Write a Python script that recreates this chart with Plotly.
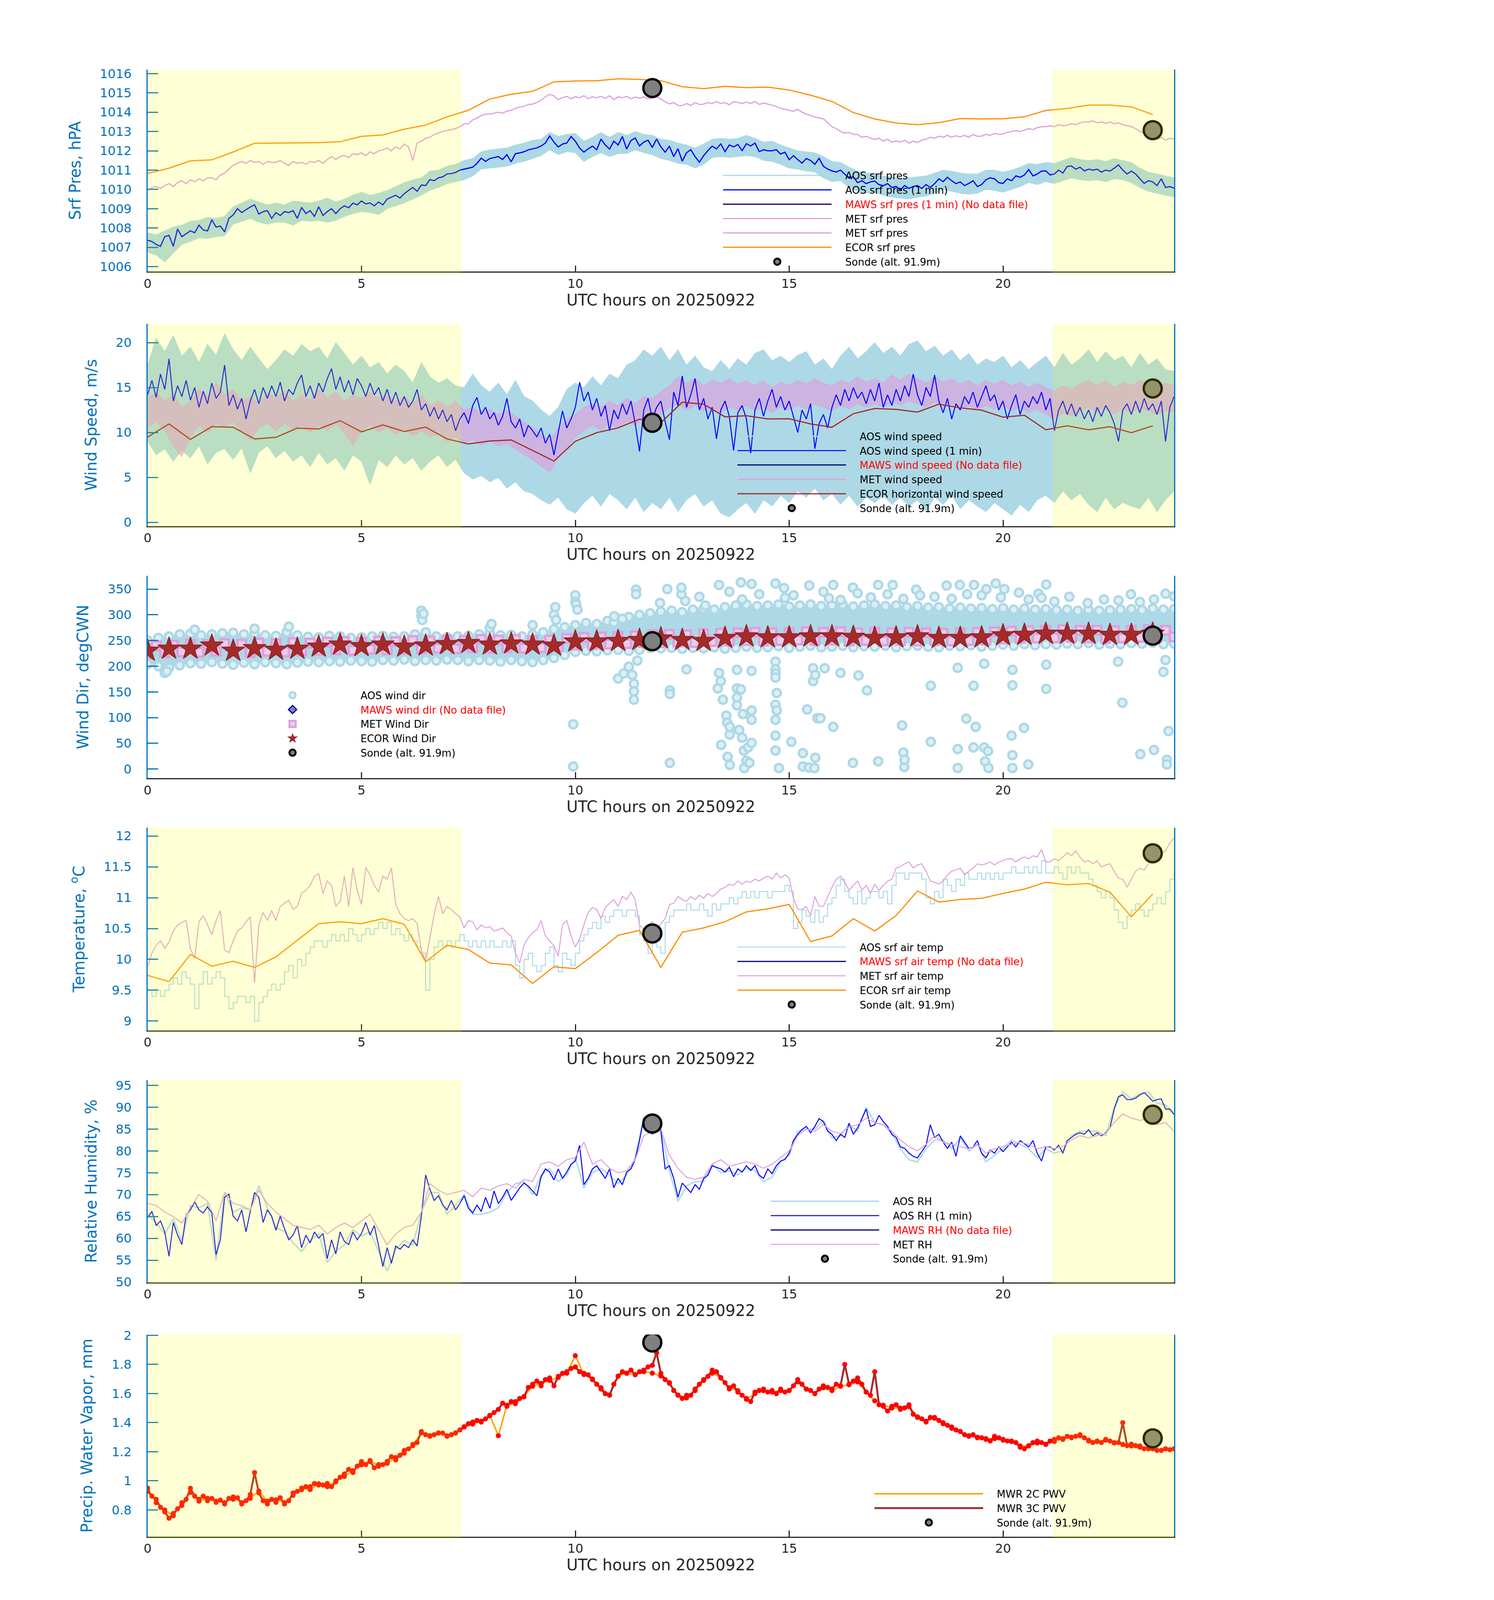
import numpy as np
import plotly.graph_objects as go

# ---------------- time bases ----------------
t01 = np.round(np.arange(241) * 0.1, 2)    # 0.0 .. 24.0 h
t02 = np.round(np.arange(121) * 0.2, 2)    # 0.0 .. 24.0 h
t025 = np.arange(97) * 0.25                # 0.0 .. 24.0 h
t_ecor = np.arange(48) * 0.5               # 0.0 .. 23.5 h
sonde_t = [11.8, 23.5]

night_spans = [(0, 7.33), (21.16, 24)]

# ---------------- panel 1: surface pressure ----------------
aos_pres_hi = [
    1007.75, 1007.65, 1007.85, 1008.05, 1008.15, 1008.35, 1008.4, 1008.55, 1008.5, 1008.6,
    1009.1, 1009.3, 1009.5, 1009.35, 1009.2, 1009.3, 1009.2, 1009.4, 1009.35, 1009.3,
    1009.4, 1009.55, 1009.35, 1009.5, 1009.7, 1009.85, 1009.7, 1009.8, 1009.95, 1010.15,
    1010.35, 1010.5, 1010.6, 1010.95, 1011.0, 1011.2, 1011.3, 1011.5, 1011.6, 1011.95,
    1012.05, 1012.1, 1012.15, 1012.3, 1012.4, 1012.55, 1012.6, 1012.95, 1012.75, 1012.85,
    1012.9, 1012.5, 1012.7, 1012.95, 1012.7, 1012.95, 1012.8, 1013.0, 1012.85, 1012.8,
    1012.6, 1012.55, 1012.4, 1012.3, 1012.15, 1012.35, 1012.6, 1012.65, 1012.6, 1012.65,
    1012.8, 1012.65, 1012.45, 1012.5, 1012.3, 1012.15, 1012.0, 1011.95, 1011.9, 1011.7,
    1011.45, 1011.4, 1011.15, 1010.95, 1010.85, 1010.85, 1010.7, 1010.65, 1010.6, 1010.6,
    1010.65, 1010.7, 1010.85, 1011.0, 1010.95, 1010.85, 1010.8, 1010.8, 1011.0, 1011.0,
    1010.9, 1011.0, 1011.15, 1011.35, 1011.3, 1011.4, 1011.35, 1011.5, 1011.65, 1011.55,
    1011.5, 1011.55, 1011.45, 1011.6, 1011.5, 1011.4, 1011.1, 1010.9, 1010.8, 1010.7,
    1010.6]
aos_pres_lo = [
    1006.75, 1006.6, 1006.25, 1006.7, 1007.15, 1007.3, 1007.5, 1007.45, 1007.55, 1007.6,
    1008.2, 1008.35, 1008.5, 1008.3, 1008.2, 1008.3, 1008.3, 1008.15, 1008.4, 1008.35,
    1008.4, 1008.3, 1008.4, 1008.6, 1008.75, 1008.85, 1008.8, 1008.7, 1009.0, 1009.15,
    1009.3, 1009.5, 1009.7, 1009.95, 1010.1, 1010.3, 1010.4, 1010.5, 1010.7, 1011.05,
    1011.1, 1011.15, 1011.2, 1011.35, 1011.45, 1011.6, 1011.75, 1012.05, 1011.8, 1011.95,
    1011.9, 1011.45, 1011.7, 1011.9, 1011.7, 1011.85, 1011.85, 1012.05, 1011.9, 1011.8,
    1011.6, 1011.5, 1011.35, 1011.3, 1011.1, 1011.3, 1011.65, 1011.7, 1011.65, 1011.7,
    1011.75, 1011.7, 1011.5, 1011.45, 1011.3, 1011.1, 1011.05, 1010.95, 1010.9, 1010.6,
    1010.4, 1010.45, 1010.1, 1009.9, 1009.8, 1009.85, 1009.7, 1009.6, 1009.55, 1009.5,
    1009.6, 1009.65, 1009.8, 1010.0, 1009.9, 1009.8, 1009.75, 1009.8, 1010.0, 1009.95,
    1009.85, 1010.0, 1010.15, 1010.35, 1010.25, 1010.4, 1010.3, 1010.45, 1010.6, 1010.5,
    1010.45, 1010.5, 1010.4, 1010.55, 1010.5, 1010.35, 1010.1, 1009.9, 1009.8, 1009.7,
    1009.6]
aos_pres_1min = [
    1007.37, 1007.30, 1007.15, 1007.05, 1007.55, 1007.62, 1007.05, 1007.95, 1007.55, 1007.70,
    1007.86, 1007.75, 1008.15, 1007.90, 1007.85, 1008.43, 1008.05, 1008.10, 1007.80, 1008.50,
    1008.68, 1009.00, 1008.80, 1008.95, 1009.09, 1009.20, 1008.72, 1008.85, 1008.90, 1008.50,
    1008.80, 1008.65, 1008.85, 1008.80, 1008.90, 1008.50, 1009.07, 1008.75, 1008.90, 1008.60,
    1009.10, 1008.65, 1008.85, 1009.00, 1008.75, 1009.00, 1009.15, 1009.05, 1009.29, 1009.20,
    1009.40, 1009.25, 1009.30, 1009.15, 1009.35, 1009.20, 1009.50, 1009.60, 1009.70, 1009.55,
    1009.78, 1009.95, 1010.10, 1009.90, 1010.23, 1010.20, 1010.51, 1010.45, 1010.60, 1010.65,
    1010.80, 1010.82, 1010.88, 1011.00, 1011.05, 1011.10, 1011.15, 1011.35, 1011.62, 1011.45,
    1011.60, 1011.65, 1011.70, 1011.55, 1011.80, 1011.43, 1011.85, 1011.89, 1011.95, 1012.05,
    1012.10, 1012.15, 1012.25, 1012.40, 1012.77, 1012.45, 1012.20, 1012.35, 1012.40, 1012.74,
    1012.50, 1012.14, 1011.93, 1012.10, 1012.24, 1012.05, 1012.61, 1012.30, 1012.09, 1012.50,
    1012.30, 1012.74, 1012.09, 1012.53, 1012.66, 1012.25, 1012.45, 1012.55, 1012.17, 1012.61,
    1012.20, 1011.93, 1012.24, 1011.70, 1012.11, 1011.46, 1011.90, 1012.06, 1011.70, 1011.41,
    1011.75, 1012.01, 1012.24, 1012.10, 1012.36, 1011.96, 1012.30, 1012.20, 1012.33, 1012.01,
    1012.37, 1012.25, 1012.40, 1011.96, 1012.05, 1012.00, 1012.00, 1012.06, 1011.83, 1011.93,
    1011.54, 1011.75, 1011.55, 1011.36, 1011.60, 1011.50, 1011.30, 1011.61, 1011.20, 1011.05,
    1010.96, 1010.90, 1011.00, 1010.80, 1010.58, 1010.65, 1010.35, 1010.45, 1010.30, 1010.39,
    1010.43, 1010.25, 1010.19, 1010.30, 1010.10, 1010.15, 1009.98, 1010.20, 1010.05, 1010.15,
    1010.20, 1010.05, 1010.25, 1010.10, 1010.30, 1010.55, 1010.40, 1010.63, 1010.45, 1010.30,
    1010.39, 1010.20, 1010.31, 1010.45, 1010.15, 1010.25, 1010.50, 1010.60, 1010.55, 1010.35,
    1010.31, 1010.55, 1010.45, 1010.70, 1010.63, 1010.75, 1011.03, 1010.70, 1010.80, 1010.95,
    1010.96, 1010.75, 1010.80, 1011.00, 1010.85, 1011.19, 1011.21, 1011.05, 1011.15, 1010.96,
    1011.05, 1011.00, 1011.05, 1010.90, 1011.00, 1010.95, 1011.10, 1011.27, 1011.00, 1010.80,
    1010.95, 1010.80, 1010.55, 1010.31, 1010.45, 1010.39, 1010.20, 1010.55, 1010.10, 1010.15,
    1010.06]
met_pres = [
    1009.95, 1010.1, 1010.15, 1010.05, 1010.2, 1010.3, 1010.15, 1010.35, 1010.45, 1010.3,
    1010.5, 1010.4, 1010.55, 1010.45, 1010.6, 1010.6, 1010.5, 1010.75, 1010.85, 1011.05,
    1011.25, 1011.35, 1011.45, 1011.35, 1011.5, 1011.4, 1011.45, 1011.3, 1011.45, 1011.4,
    1011.4, 1011.5, 1011.35, 1011.25, 1011.45, 1011.35, 1011.4, 1011.3, 1011.45, 1011.4,
    1011.5, 1011.35, 1011.55, 1011.7, 1011.55, 1011.7, 1011.75, 1011.65, 1011.85, 1011.8,
    1011.9, 1011.75, 1011.95, 1011.85, 1012.0, 1012.05, 1012.15, 1012.0, 1012.2, 1012.1,
    1012.35, 1012.2, 1011.5, 1012.4, 1012.5, 1012.65, 1012.7, 1012.85, 1012.92, 1013.0,
    1013.05, 1013.1, 1013.15, 1013.25, 1013.4, 1013.4, 1013.6, 1013.7, 1013.82, 1013.9,
    1013.9, 1013.95, 1014.0, 1013.95, 1014.05, 1014.1, 1014.2, 1014.27, 1014.3, 1014.4,
    1014.42, 1014.5, 1014.63, 1014.8, 1014.92, 1014.85, 1014.65, 1014.75, 1014.82, 1014.7,
    1014.8, 1014.75, 1014.85, 1014.7, 1014.8, 1014.75, 1014.82, 1014.72, 1014.85, 1014.65,
    1014.8, 1014.75, 1014.82, 1014.7, 1014.78, 1014.72, 1014.8, 1014.7, 1014.75, 1014.8,
    1014.68, 1014.55, 1014.42, 1014.5, 1014.35, 1014.34, 1014.45, 1014.35, 1014.5, 1014.4,
    1014.42, 1014.5, 1014.45, 1014.55, 1014.45, 1014.5, 1014.38, 1014.55, 1014.5, 1014.45,
    1014.52, 1014.45, 1014.55, 1014.4, 1014.48, 1014.42, 1014.35, 1014.3, 1014.2, 1014.15,
    1014.1, 1014.05, 1014.15, 1014.0, 1013.9, 1013.82, 1013.75, 1013.7, 1013.66, 1013.45,
    1013.25, 1013.15, 1013.0, 1012.92, 1012.95, 1012.85, 1012.84, 1012.7, 1012.75, 1012.65,
    1012.59, 1012.65, 1012.5, 1012.6, 1012.45, 1012.51, 1012.45, 1012.55, 1012.4, 1012.5,
    1012.43, 1012.55, 1012.6, 1012.7, 1012.65, 1012.76, 1012.7, 1012.8, 1012.7, 1012.78,
    1012.72, 1012.8, 1012.7, 1012.85, 1012.75, 1012.76, 1012.85, 1012.8, 1012.9, 1012.85,
    1012.88, 1012.95, 1013.0, 1013.05, 1013.0, 1013.08, 1013.15, 1013.1, 1013.2, 1013.25,
    1013.25, 1013.3, 1013.25, 1013.35, 1013.3, 1013.33, 1013.4, 1013.35, 1013.45, 1013.5,
    1013.49, 1013.55, 1013.45, 1013.5, 1013.42, 1013.5, 1013.4, 1013.45, 1013.35, 1013.3,
    1013.25, 1013.15, 1013.0, 1012.92, 1012.8, 1012.7, 1012.59, 1012.7, 1012.55, 1012.65,
    1012.6]
ecor_pres = [
    1010.82, 1011.10, 1011.48, 1011.53, 1011.94, 1012.39, 1012.40, 1012.41, 1012.42, 1012.47,
    1012.75, 1012.82, 1013.12, 1013.33, 1013.76, 1014.10, 1014.68, 1014.93, 1015.08, 1015.57,
    1015.62, 1015.63, 1015.73, 1015.70, 1015.63, 1015.32, 1015.22, 1015.34, 1015.27, 1015.30,
    1015.15, 1014.88, 1014.56, 1013.98, 1013.65, 1013.44, 1013.35, 1013.46, 1013.67, 1013.65,
    1013.66, 1013.76, 1014.09, 1014.19, 1014.37, 1014.37, 1014.28, 1013.88]
sonde_pres = [1015.25, 1013.07]

# ---------------- panel 2: wind speed ----------------
aos_ws_hi = [
    17.5, 20.5, 19.0, 20.8, 18.5, 19.5, 17.8, 19.8, 18.6, 21.0,
    19.2, 18.0, 19.5, 18.2, 17.0, 18.0, 19.2, 18.5, 19.8, 19.0,
    19.5, 18.2, 20.0, 18.8, 17.5, 18.5, 17.2, 17.8, 16.5, 17.5,
    16.8, 15.5, 17.8, 16.2, 15.5, 16.0, 15.2, 15.0, 16.5, 15.2,
    14.5, 15.5, 14.2, 15.8, 14.0, 13.5, 12.5, 11.8, 12.8, 14.8,
    15.5, 15.0, 16.2, 15.2, 16.5, 16.0, 17.5, 18.0, 19.2, 18.5,
    19.5, 18.0, 19.2, 17.5, 18.5, 17.2, 16.8, 18.0, 17.0, 18.2,
    17.5, 18.8, 19.2, 18.0, 18.5, 17.8, 18.6, 19.0, 17.5, 18.2,
    17.0, 18.5, 19.5, 18.2, 19.0, 20.0, 18.8, 19.5, 18.5, 19.8,
    20.2, 19.0, 19.6, 18.5, 19.2, 18.0, 18.8, 17.5, 18.2, 17.8,
    18.5, 17.2, 18.0, 17.0, 17.8, 18.5, 17.2, 18.8, 17.5, 18.2,
    19.2, 17.8, 19.0, 18.0, 18.5, 17.2, 18.8, 17.5, 18.2, 17.0,
    16.8]
aos_ws_lo = [
    9.0, 7.5, 8.2, 6.8, 8.0, 7.2, 8.5, 6.5, 7.8, 8.2,
    7.0, 8.3, 5.5, 7.8, 8.5, 7.2, 8.0, 6.8, 7.5, 6.2,
    7.8, 6.5, 7.2, 5.8, 7.5, 6.8, 4.2, 7.0, 6.2, 7.5,
    6.5, 7.2, 5.8, 6.8, 7.5, 6.2, 7.0, 5.5, 4.8, 5.2,
    4.5, 5.0, 3.8, 4.5, 3.5, 3.2, 2.5, 2.0, 2.8, 1.5,
    1.0, 2.2, 3.0, 1.8, 3.2, 2.5, 1.5, 2.8, 1.2, 2.2,
    1.5, 2.8, 1.2, 2.5, 3.2, 1.8, 2.5, 1.0, 0.6, 1.5,
    2.2, 1.0, 2.5, 1.8, 3.0, 2.2, 3.5, 2.8, 3.8, 2.5,
    3.2, 2.0, 3.0, 1.8, 2.8, 2.2, 3.0, 2.0, 2.8, 1.8,
    2.5, 1.2, 2.8, 2.0, 3.0, 1.5, 2.5, 1.8, 1.2, 2.2,
    1.5, 0.8, 2.0, 1.2, 2.5, 3.0, 2.2, 3.5, 2.5, 3.2,
    2.0, 1.2, 2.8, 1.5, 2.2, 1.8, 1.5, 2.8, 1.2, 2.5,
    3.5]
aos_ws_1min = [
    14.2, 15.8, 13.9, 16.5, 14.8, 18.2, 13.5, 15.2, 14.0, 15.8,
    13.6, 15.0, 12.8, 14.6, 13.2, 15.5, 13.8, 14.5, 17.5, 13.0,
    14.2, 12.6, 13.8, 11.5, 13.5, 14.8, 13.2, 15.0, 13.8, 15.2,
    14.0, 15.6, 13.5, 14.8, 14.2, 15.5, 16.4, 14.0, 15.2, 13.8,
    15.5, 14.5, 16.0, 17.1, 14.8, 16.2, 14.5, 15.8, 14.2, 16.0,
    15.2, 14.0, 15.5, 14.2, 15.0, 13.5, 14.8, 13.2, 14.5, 13.0,
    14.0, 12.8, 13.5, 14.8, 12.5, 13.2, 11.8, 12.8, 11.5, 12.5,
    11.2, 12.0, 10.2, 11.5, 12.2, 11.0, 13.0, 13.9, 12.0, 12.8,
    11.5, 12.2, 10.8, 11.8, 13.8, 11.2, 10.5, 11.5, 9.5, 10.8,
    10.2, 9.5, 10.5, 8.8, 9.8, 7.5, 10.0, 12.4, 10.5, 11.5,
    12.8, 15.6, 13.5, 14.5, 12.5, 13.8, 11.8, 13.0, 10.2, 12.5,
    11.5, 13.2, 12.0, 13.5, 11.0, 7.9, 12.5, 13.8, 11.5, 12.8,
    13.5, 11.2, 9.2, 14.5, 13.0, 16.3, 12.8, 14.2, 16.0, 12.5,
    13.8, 11.5, 12.8, 9.3, 12.5, 13.5, 11.8, 8.0, 12.2, 13.0,
    11.5, 7.7, 12.5, 13.8, 11.8, 13.5, 14.8, 12.8, 14.0, 12.5,
    13.5, 11.8, 10.0, 12.5, 11.5, 13.2, 8.2, 11.0, 12.0, 10.5,
    12.8, 14.2, 13.0, 14.8, 13.5, 15.0, 13.8, 14.5, 13.2, 14.8,
    13.5, 15.5, 12.8, 14.2, 13.0, 14.8, 13.5, 15.2, 14.0, 16.5,
    14.2, 13.0, 15.0, 14.0, 16.4, 13.5, 12.2, 13.8, 11.5, 13.2,
    12.5, 14.0, 13.2, 14.5, 12.8, 14.0, 15.2, 13.5, 14.2, 12.5,
    13.5, 11.5, 13.0, 14.2, 12.0, 13.5, 12.8, 14.0, 13.2, 14.5,
    12.5, 13.8, 10.2, 12.5, 13.5, 12.0, 13.2, 11.8, 12.8, 11.5,
    12.5, 11.2, 12.8, 11.8, 13.0, 12.2, 11.0, 9.0, 12.5, 13.2,
    12.0, 13.5, 12.2, 13.8, 12.5, 13.2, 12.0, 13.5, 9.0, 12.8,
    14.0]
met_ws_hi = [
    13.8, 14.5, 13.5, 14.2, 12.8, 13.5, 14.8, 14.0, 15.5, 14.2,
    14.8, 13.5, 14.0, 13.2, 14.5, 13.8, 14.6, 13.5, 14.2, 13.6,
    14.8, 13.8, 14.5, 13.5, 14.2, 13.8, 14.5, 13.8, 14.2, 13.5,
    14.0, 13.2, 14.2, 13.0, 13.5, 12.8, 13.5, 12.5, 12.8, 12.2,
    12.6, 12.0, 12.5, 11.8, 11.2, 10.5, 9.8, 9.2, 10.5, 11.5,
    12.0, 12.8, 13.2, 12.8, 13.5, 13.0, 13.8, 13.2, 14.0, 13.8,
    14.5, 15.2, 16.2, 15.5, 16.0, 15.2, 15.8, 15.5, 16.0, 15.4,
    15.8, 15.2, 15.8, 15.0, 15.6, 15.2, 15.8, 15.4, 16.0, 15.5,
    15.2, 15.8, 15.5, 16.2, 15.6, 16.0, 15.5, 16.4, 15.8, 16.5,
    16.0, 15.5, 16.2, 15.6, 16.0, 15.4, 15.8, 15.2, 15.8, 15.4,
    15.8, 15.2, 15.6, 15.0, 15.5, 15.0, 14.6, 15.2, 14.8, 15.4,
    15.8, 15.2, 15.8, 15.0, 15.6, 15.2, 15.8, 15.4, 15.0, 15.5,
    15.2]
met_ws_lo = [
    10.5, 11.2, 10.2, 8.5, 7.3, 9.5, 10.8, 10.0, 11.0, 10.5,
    11.2, 10.0, 9.2, 10.5, 11.0, 10.2, 11.0, 10.4, 10.8, 10.0,
    10.8, 10.2, 11.0, 10.0, 8.5, 10.2, 10.8, 10.0, 10.6, 9.8,
    10.4, 9.6, 10.2, 9.5, 9.8, 9.0, 9.5, 8.8, 9.2, 8.6,
    9.0, 8.5, 8.8, 8.2, 7.5, 7.0, 6.2, 5.6, 7.2, 8.2,
    9.5, 10.2, 10.8, 10.2, 11.0, 10.5, 11.2, 10.8, 11.5, 11.2,
    12.0, 12.8, 13.2, 12.5, 13.0, 12.4, 12.8, 12.2, 12.8, 12.5,
    13.0, 12.4, 12.8, 12.2, 12.8, 12.5, 13.0, 12.6, 13.2, 12.8,
    12.4, 13.0, 12.6, 13.2, 12.8, 13.2, 12.8, 13.4, 13.0, 13.5,
    13.2, 12.8, 13.4, 12.8, 13.2, 12.6, 13.0, 12.5, 13.0, 12.6,
    13.0, 12.4, 12.8, 12.2, 12.6, 12.0, 11.5, 12.2, 11.8, 12.4,
    12.8, 12.2, 12.8, 12.0, 12.6, 12.2, 12.8, 12.4, 12.0, 12.5,
    12.2]
ecor_ws = [
    9.49, 10.95, 9.23, 10.65, 10.58, 9.28, 9.46, 10.49, 10.39, 11.32,
    10.07, 10.84, 10.11, 10.60, 9.28, 8.72, 9.05, 9.17, 8.0, 6.82,
    9.02, 9.98, 10.51, 11.48, 11.09, 13.37, 13.15, 11.74, 11.86, 11.51,
    11.53, 10.95, 10.58, 12.09, 12.67, 12.57, 12.27, 13.15, 12.74, 12.48,
    11.70, 11.92, 10.30, 10.74, 10.30, 10.65, 9.98, 10.74]
sonde_ws = [11.08, 14.9]

# ---------------- panel 3: wind direction ----------------
aos_wd_lo = [
    204, 200, 197, 202, 206, 205, 208, 205, 203, 207, 204, 208, 206, 204, 207, 209,
    208, 210, 209, 211, 210, 209, 212, 211, 213, 210, 212, 211, 213, 212, 210, 212,
    211, 209, 212, 210, 208, 212, 216, 222, 228, 230, 229, 231, 232, 230, 232, 236,
    235, 236, 234, 236, 235, 237, 234, 236, 238, 236, 237, 239, 236, 238, 240, 237,
    238, 240, 237, 239, 238, 240, 237, 239, 240, 238, 237, 240, 239, 241, 238, 240,
    242, 240, 243, 241, 243, 242, 244, 243, 245, 242, 244, 243, 245, 244, 246, 243,
    244]
aos_wd_hi = [
    250, 255, 258, 262, 263, 260, 262, 264, 265, 262, 264, 260, 259, 266, 260, 257,
    256, 259, 258, 255, 256, 258, 259, 257, 258, 262, 266, 258, 256, 258, 259, 262,
    264, 260, 261, 258, 262, 266, 272, 276, 280, 284, 282, 288, 292, 296, 300, 303,
    306, 308, 305, 310, 312, 310, 315, 318, 320, 317, 318, 320, 316, 318, 320, 317,
    318, 320, 316, 318, 320, 317, 318, 315, 317, 314, 315, 312, 314, 312, 313, 311,
    313, 310, 312, 310, 311, 309, 310, 308, 310, 308, 309, 310, 311, 309, 312, 310,
    311]
# scattered AOS wind-direction samples outside the dense core
aos_wd_out_t = [
    0.4, 0.45, 1.1, 2.5, 3.3, 6.4, 6.4, 6.42, 6.45, 8.0, 8.04, 9.0, 9.5, 9.53, 9.55,
    9.95, 9.95, 10.0, 10.0, 10.02, 10.05, 10.9, 10.91, 11.0, 11.1, 11.13, 11.25, 11.33,
    11.37, 11.37, 11.37, 11.42, 11.42, 11.45, 11.98, 12.15, 12.21, 12.21, 12.21, 12.48,
    12.48, 12.57, 12.6, 12.9, 13.04, 13.33, 13.36, 13.36, 13.4, 13.41, 13.45, 13.53,
    13.55, 13.56, 13.6, 13.61, 13.61, 13.61, 13.78, 13.78, 13.78, 13.78, 13.83, 13.87,
    13.87, 13.9, 13.9, 13.92, 13.94, 13.95, 14.0, 14.04, 14.07, 14.12, 14.12, 14.12,
    14.12, 14.12, 14.3, 14.68, 14.68, 14.68, 14.68, 14.68, 14.68, 14.68, 14.68, 14.68,
    14.71, 14.71, 14.76, 14.88, 14.9, 15.05, 15.1, 15.32, 15.32, 15.42, 15.46, 15.47,
    15.56, 15.56, 15.59, 15.61, 15.61, 15.66, 15.73, 15.8, 15.83, 15.93, 16.03, 16.03,
    16.2, 16.2, 16.49, 16.49, 16.6, 16.62, 16.82, 16.91, 17.08, 17.08, 17.3, 17.42,
    17.64, 17.67, 17.67, 17.69, 17.7, 17.97, 18.06, 18.31, 18.31, 18.4, 18.68, 18.8,
    18.94, 18.94, 18.94, 18.99, 19.14, 19.16, 19.31, 19.31, 19.32, 19.36, 19.5, 19.56,
    19.56, 19.58, 19.61, 19.65, 19.66, 19.83, 19.95, 20.03, 20.2, 20.22, 20.22, 20.22,
    20.22, 20.37, 20.49, 20.59, 20.6, 20.83, 20.9, 21.01, 21.01, 21.01, 21.2, 21.55,
    21.98, 22.36, 22.69, 22.7, 22.79, 22.99, 23.2, 23.21, 23.53, 23.53, 23.75, 23.8,
    23.8, 23.83, 23.83, 23.87, 24.0]
aos_wd_out_v = [
    187, 190, 271, 273, 277, 308, 298, 290, 302, 275, 282, 280, 300, 315, 290,
    5, 87, 338, 325, 320, 310, 285, 297, 176, 292, 186, 199, 183,
    166, 151, 135, 349, 340, 211, 323, 350, 153, 146, 12, 340,
    353, 327, 194, 335, 318, 157, 187, 358, 171, 47, 135, 104,
    90, 24, 345, 67, 8, 82, 193, 157, 139, 124, 76, 155,
    363, 61, 330, 107, 36, 2, 16, 42, 12, 51, 96, 114,
    191, 360, 340, 209, 194, 186, 178, 125, 96, 65, 36, 361,
    148, 114, 2, 352, 333, 53, 338, 31, 5, 116, 3, 357,
    196, 171, 2, 22, 183, 99, 99, 345, 196, 332, 82, 358,
    187, 329, 12, 353, 342, 182, 153, 334, 15, 358, 340, 358,
    85, 32, 331, 4, 18, 349, 338, 162, 53, 335, 357, 331,
    197, 39, 2, 358, 98, 340, 162, 42, 358, 82, 338, 205,
    42, 15, 350, 35, 2, 361, 334, 350, 65, 27, 2, 163,
    193, 343, 80, 9, 330, 341, 333, 156, 203, 359, 326, 335,
    323, 330, 209, 328, 129, 340, 325, 29, 37, 330, 189, 212,
    341, 18, 9, 74, 336]
met_wd = [
    224, 240, 226, 241, 228, 243, 227, 242, 229, 244,
    228, 243, 227, 245, 229, 244, 228, 246, 230, 245,
    231, 247, 232, 248, 231, 247, 233, 249, 232, 248,
    233, 250, 234, 249, 235, 251, 234, 250, 236, 252,
    235, 251, 236, 252, 235, 250, 236, 251, 238, 254,
    241, 256, 242, 257, 243, 258, 244, 259, 246, 261,
    246, 262, 247, 261, 246, 263, 248, 264, 249, 265,
    250, 266, 249, 265, 250, 266, 251, 267, 250, 266,
    251, 267, 249, 265, 250, 266, 249, 265, 250, 266,
    249, 265, 250, 264, 249, 265, 250, 266, 251, 267,
    253, 268, 254, 269, 255, 270, 255, 271, 256, 270,
    255, 270, 254, 269, 255, 270, 256, 271, 256, 270,
    257]
ecor_wd = [
    230, 234, 234, 240, 230, 235, 232, 234, 238, 242,
    239, 242, 238, 240, 243, 245, 242, 244, 242, 240,
    248, 248, 249, 251, 254, 251, 249, 255, 258, 256,
    256, 258, 258, 257, 255, 256, 258, 255, 255, 256,
    260, 261, 263, 263, 263, 261, 261, 263]
sonde_wd = [248.6, 259.5]

# ---------------- panel 4: air temperature ----------------
aos_temp = [
    9.5, 9.4, 9.5, 9.4, 9.5, 9.6, 9.7, 9.6, 9.8, 9.7,
    9.6, 9.2, 9.6, 9.8, 9.6, 9.7, 9.8, 9.7, 9.4, 9.2,
    9.3, 9.4, 9.4, 9.3, 9.4, 9.0, 9.3, 9.4, 9.5, 9.6,
    9.5, 9.6, 9.8, 9.9, 9.7, 10.0, 9.9, 10.1, 10.2, 10.3,
    10.3, 10.2, 10.3, 10.4, 10.3, 10.4, 10.3, 10.5, 10.4, 10.3,
    10.4, 10.5, 10.4, 10.5, 10.6, 10.5, 10.6, 10.4, 10.5, 10.4,
    10.3, 10.4, 10.3, 10.2, 10.1, 9.5, 10.0, 10.2, 10.3, 10.2,
    10.3, 10.2, 10.3, 10.4, 10.3, 10.2, 10.3, 10.2, 10.3, 10.2,
    10.3, 10.2, 10.2, 10.3, 10.2, 10.3, 9.9, 9.7, 10.0, 10.1,
    9.9, 9.8, 9.9, 10.1, 10.2, 9.9, 9.8, 10.1, 10.0, 9.9,
    10.1, 10.3, 10.4, 10.5, 10.6, 10.5, 10.7, 10.6, 10.7, 10.8,
    10.8, 10.7, 10.8, 10.8, 10.7, 10.4, 10.3, 10.1, 10.3, 10.2,
    10.1, 10.6, 10.7, 10.8, 10.8, 10.8, 10.9, 10.8, 10.8, 10.9,
    10.8, 10.7, 10.9, 10.8, 10.9, 10.9, 11.0, 10.9, 11.0, 11.1,
    11.0, 11.1, 11.0, 11.1, 11.1, 11.0, 11.1, 11.1, 11.1, 11.2,
    11.1, 10.5, 10.6, 10.8, 10.7, 10.6, 10.8, 10.6, 10.7, 10.9,
    11.0, 11.2, 11.3, 11.1, 11.0, 10.9, 11.1, 10.9, 11.0, 11.1,
    11.1, 11.0, 11.1, 10.9, 11.2, 11.4, 11.4, 11.3, 11.4, 11.4,
    11.4, 11.3, 11.0, 10.9, 11.1, 11.0, 11.3, 11.2, 11.1, 11.3,
    11.2, 11.4, 11.3, 11.3, 11.4, 11.3, 11.4, 11.3, 11.4, 11.3,
    11.4, 11.4, 11.5, 11.4, 11.4, 11.5, 11.4, 11.5, 11.4, 11.6,
    11.4, 11.4, 11.5, 11.4, 11.3, 11.5, 11.4, 11.5, 11.4, 11.4,
    11.3, 11.2, 11.1, 11.0, 11.1, 11.0, 10.8, 10.6, 10.5, 10.7,
    10.8, 10.9, 10.8, 10.7, 10.8, 10.9, 11.0, 10.9, 11.1, 11.3,
    11.4]
met_temp = [
    9.88, 10.10, 10.23, 10.30, 10.18, 10.28, 10.46, 10.56, 10.60, 10.63,
    10.17, 10.02, 10.61, 10.71, 10.56, 10.40, 10.63, 10.79, 10.15, 10.11,
    10.30, 10.46, 10.51, 10.61, 10.69, 9.62, 10.56, 10.76, 10.63, 10.79,
    10.63, 10.86, 10.91, 10.96, 10.81, 10.86, 11.07, 11.12, 11.20, 11.35,
    11.39, 11.07, 11.27, 11.20, 10.86, 10.94, 11.35, 10.86, 11.49, 11.12,
    10.89, 11.49, 11.37, 11.20, 11.09, 11.35, 11.30, 11.48, 10.89, 10.74,
    10.66, 10.63, 10.66, 10.58, 10.15, 9.97, 10.35, 10.74, 11.02, 10.74,
    10.86, 10.81, 10.74, 10.69, 10.51, 10.63, 10.61, 10.48, 10.56, 10.51,
    10.53, 10.46, 10.48, 10.51, 10.43, 10.38, 10.10, 9.94, 10.23, 10.35,
    10.43, 10.48, 10.63, 10.38, 10.30, 10.22, 10.05, 10.56, 10.63, 10.38,
    10.20, 10.33, 10.56, 10.76, 10.84, 10.81, 10.66, 10.84, 10.91, 10.97,
    10.86, 11.02, 10.97, 11.09, 10.97, 10.56, 10.48, 10.56, 10.61, 10.46,
    10.58, 10.66, 10.89, 10.91, 11.02, 10.97, 10.94, 11.02, 10.97, 11.04,
    10.99, 11.07, 11.02, 11.07, 11.14, 11.17, 11.22, 11.20, 11.27, 11.22,
    11.27, 11.25, 11.30, 11.27, 11.32, 11.35, 11.30, 11.40, 11.32, 11.37,
    11.32, 10.99, 10.81, 10.81, 10.86, 10.71, 11.02, 10.86, 10.86, 11.02,
    11.17, 11.30, 11.35, 11.25, 11.12, 11.20, 11.27, 11.12, 11.20, 11.07,
    11.22, 11.12, 11.20, 11.27, 11.30, 11.48, 11.50, 11.55, 11.58, 11.48,
    11.53, 11.55, 11.43, 11.27, 11.25, 11.22, 11.27, 11.37, 11.43, 11.45,
    11.48, 11.37, 11.43, 11.48, 11.55, 11.53, 11.55, 11.58, 11.53, 11.58,
    11.60, 11.63, 11.63, 11.58, 11.63, 11.66, 11.63, 11.68, 11.66, 11.78,
    11.58, 11.58, 11.63, 11.60, 11.66, 11.73, 11.68, 11.76, 11.66, 11.58,
    11.60, 11.55, 11.60, 11.50, 11.53, 11.55, 11.43, 11.32, 11.30, 11.17,
    11.30, 11.43, 11.48, 11.45, 11.55, 11.63, 11.66, 11.71, 11.76, 11.89,
    11.97]
ecor_temp = [
    9.74, 9.64, 10.08, 9.89, 9.97, 9.87, 10.04, 10.31, 10.58, 10.61,
    10.58, 10.66, 10.57, 9.96, 10.23, 10.16, 9.94, 9.91, 9.61, 9.88,
    9.85, 10.11, 10.39, 10.47, 9.87, 10.44, 10.51, 10.61, 10.77, 10.82,
    10.89, 10.29, 10.38, 10.66, 10.46, 10.71, 11.11, 10.93, 10.97, 10.99,
    11.07, 11.14, 11.25, 11.21, 11.23, 11.09, 10.69, 11.06]
sonde_temp = [10.42, 11.72]

# ---------------- panel 5: relative humidity ----------------
aos_rh = [
    65.5, 63.5, 61.0, 64.5, 59.5, 67.5, 67.0, 68.0, 55.0, 70.5,
    66.0, 67.0, 66.5, 72.0, 67.0, 62.5, 61.5, 59.0, 57.0, 59.5,
    61.0, 54.5, 57.0, 58.5, 62.0, 60.5, 61.5, 57.0, 52.5, 57.5,
    59.5, 58.5, 66.0, 70.5, 70.5, 65.5, 67.5, 70.0, 65.5, 65.5,
    66.0, 67.0, 70.5, 72.5, 73.0, 70.0, 74.5, 76.0, 73.0, 74.5,
    78.5, 71.5, 75.0, 76.0, 74.5, 72.5, 74.5, 78.5, 88.0, 84.0,
    85.0, 75.5, 68.5, 72.0, 73.0, 73.0, 77.0, 75.0, 75.5, 74.5,
    76.0, 75.5, 73.0, 74.0, 77.5, 79.0, 84.5, 85.0, 85.0, 87.0,
    83.0, 83.5, 86.0, 84.5, 90.0, 86.5, 86.0, 84.0, 80.5, 78.0,
    77.5, 80.5, 82.5, 82.5, 80.5, 83.0, 80.0, 81.5, 77.5, 79.0,
    80.5, 82.5, 81.5, 80.5, 78.5, 80.5, 79.5, 80.0, 83.5, 84.5,
    84.5, 84.5, 83.5, 90.0, 93.5, 92.0, 93.0, 93.5, 91.0, 90.5,
    88.5]
aos_rh_1min = [
    64.71, 66.16, 62.91, 63.99, 61.47, 55.89, 63.63, 60.75, 58.59, 65.44,
    66.52, 68.32, 66.52, 65.80, 67.24, 65.80, 56.25, 59.67, 69.40, 70.12,
    65.07, 63.99, 66.52, 61.47, 66.16, 70.48, 69.40, 63.63, 66.52, 65.07,
    61.83, 65.07, 62.19, 59.67, 60.75, 62.91, 57.87, 60.75, 58.95, 61.47,
    60.03, 61.11, 55.35, 59.67, 56.43, 61.47, 59.31, 58.59, 61.47, 59.67,
    61.11, 63.63, 60.75, 62.91, 58.23, 53.55, 57.87, 54.27, 58.23, 57.51,
    58.59, 57.87, 59.67, 58.23, 65.07, 74.50, 71.21, 68.68, 69.76, 67.60,
    66.52, 68.68, 66.52, 67.96, 69.76, 66.88, 65.80, 67.60, 66.16, 69.40,
    66.88, 70.85, 67.96, 69.40, 71.21, 68.68, 70.12, 71.57, 72.65, 71.93,
    70.85, 69.76, 74.09, 75.89, 75.17, 73.37, 75.89, 73.73, 75.17, 76.97,
    77.69, 81.30, 72.29, 73.73, 75.89, 76.61, 75.17, 73.73, 75.89, 71.57,
    73.73, 72.29, 75.17, 75.89, 78.05, 82.37, 87.42, 85.98, 83.81, 86.34,
    84.53, 75.89, 76.61, 73.73, 69.40, 72.65, 71.57, 70.48, 72.29, 71.21,
    73.73, 74.45, 76.61, 76.25, 75.89, 75.17, 76.25, 74.09, 75.89, 75.17,
    76.61, 75.53, 76.61, 74.45, 73.73, 75.89, 74.80, 76.61, 77.69, 78.05,
    79.49, 82.37, 83.81, 84.89, 85.62, 84.17, 85.62, 87.42, 86.70, 84.53,
    83.81, 82.37, 83.81, 83.09, 86.34, 83.81, 85.25, 87.42, 89.58, 85.62,
    85.98, 88.14, 86.70, 85.62, 83.81, 83.09, 80.93, 80.57, 79.49, 78.77,
    78.41, 79.85, 81.29, 85.98, 83.09, 83.81, 82.01, 80.57, 82.01, 78.77,
    83.45, 82.01, 80.57, 80.93, 82.37, 79.49, 78.41, 80.21, 79.49, 80.93,
    79.85, 80.93, 82.01, 80.93, 82.37, 81.65, 80.93, 82.37, 79.49, 77.69,
    80.93, 80.93, 80.21, 81.29, 79.49, 82.37, 83.09, 83.81, 84.17, 83.81,
    84.89, 83.45, 84.17, 83.45, 84.17, 85.25, 89.58, 92.46, 92.82, 91.74,
    91.74, 92.10, 92.82, 93.36, 92.46, 91.38, 91.74, 91.92, 89.58, 89.58,
    88.32]
met_rh = [
    68.0, 67.5, 66.0, 65.0, 63.5, 67.0, 70.0, 68.5, 64.0, 70.5,
    68.0, 67.5, 66.5, 71.0, 68.0, 66.0, 64.5, 63.0, 62.5, 62.0,
    63.0, 61.0, 62.5, 63.5, 62.5, 64.0, 65.5, 62.0, 58.5, 61.0,
    62.5, 63.0, 66.0, 72.5, 71.0, 70.0, 70.5, 71.0, 69.5, 71.5,
    71.0, 72.0, 72.5, 71.5, 73.5, 73.0, 77.0, 77.5, 76.5, 78.0,
    78.5, 82.0, 77.0, 78.0, 76.0, 75.0, 75.5, 78.0, 83.5, 84.5,
    85.0, 79.0, 76.0, 74.0, 73.5, 74.0, 77.0, 78.0, 76.5, 77.0,
    77.5, 77.0, 76.0, 77.0, 78.5, 80.0, 83.5, 85.0, 84.5, 86.0,
    84.5, 84.0, 85.5, 86.0, 87.5, 86.5, 86.0, 84.5, 82.5, 81.0,
    80.0, 81.5, 83.5, 82.0, 81.5, 81.0, 80.5, 81.5, 79.5, 80.5,
    81.0, 81.5, 82.0, 81.5, 80.5, 81.0, 80.5, 81.0, 82.5, 83.5,
    83.0, 83.5, 84.0, 86.5, 88.5, 87.5, 87.0, 87.5, 86.0, 86.5,
    84.5]
sonde_rh = [86.27, 88.3]

# ---------------- panel 6: precipitable water vapour ----------------
mwr3c_pwv = [
    0.928, 0.895, 0.873, 0.819, 0.787, 0.743, 0.776, 0.808, 0.830, 0.873,
    0.949, 0.895, 0.873, 0.895, 0.863, 0.879, 0.852, 0.868, 0.841, 0.879,
    0.873, 0.884, 0.841, 0.863, 0.906, 1.057, 0.917, 0.863, 0.841, 0.873,
    0.852, 0.884, 0.841, 0.863, 0.917, 0.928, 0.939, 0.960, 0.960, 0.982,
    0.971, 0.971, 0.982, 0.960, 0.993, 1.025, 1.047, 1.079, 1.057, 1.101,
    1.133, 1.112, 1.133, 1.090, 1.112, 1.112, 1.133, 1.166, 1.144, 1.176,
    1.209, 1.220, 1.242, 1.263, 1.339, 1.317, 1.306, 1.317, 1.328, 1.328,
    1.306, 1.317, 1.328, 1.350, 1.372, 1.393, 1.404, 1.415, 1.404, 1.426,
    1.447, 1.469, 1.491, 1.534, 1.512, 1.545, 1.545, 1.566, 1.577, 1.642,
    1.664, 1.686, 1.653, 1.696, 1.707, 1.653, 1.718, 1.739, 1.750, 1.772,
    1.783, 1.750, 1.739, 1.729, 1.696, 1.664, 1.631, 1.599, 1.588, 1.664,
    1.718, 1.750, 1.739, 1.761, 1.729, 1.750, 1.761, 1.783, 1.794, 1.880,
    1.739, 1.696, 1.675, 1.621, 1.588, 1.566, 1.588, 1.588, 1.631, 1.664,
    1.696, 1.718, 1.761, 1.750, 1.707, 1.675, 1.631, 1.653, 1.610, 1.588,
    1.566, 1.545, 1.610, 1.621, 1.631, 1.610, 1.621, 1.599, 1.631, 1.610,
    1.621, 1.653, 1.696, 1.664, 1.631, 1.621, 1.599, 1.631, 1.653, 1.642,
    1.631, 1.664, 1.653, 1.800, 1.664, 1.686, 1.707, 1.664, 1.610, 1.588,
    1.750, 1.523, 1.512, 1.480, 1.512, 1.523, 1.491, 1.501, 1.523, 1.458,
    1.436, 1.426, 1.404, 1.436, 1.436, 1.415, 1.393, 1.382, 1.361, 1.350,
    1.339, 1.317, 1.306, 1.317, 1.296, 1.296, 1.285, 1.274, 1.306, 1.296,
    1.285, 1.274, 1.274, 1.263, 1.231, 1.220, 1.242, 1.263, 1.274, 1.263,
    1.252, 1.274, 1.285, 1.296, 1.285, 1.306, 1.296, 1.306, 1.317, 1.296,
    1.274, 1.263, 1.274, 1.263, 1.285, 1.274, 1.263, 1.263, 1.400, 1.242,
    1.252, 1.242, 1.231, 1.220, 1.231, 1.220, 1.209, 1.209, 1.220, 1.214,
    1.220]
mwr2c_pwv = [
    0.95, 0.85, 0.80, 0.76, 0.85, 0.92, 0.86, 0.88, 0.86, 0.85,
    0.89, 0.85, 0.88, 0.93, 0.86, 0.87, 0.85, 0.90, 0.95, 0.94,
    0.98, 0.96, 1.00, 1.03, 1.07, 1.11, 1.14, 1.10, 1.12, 1.16,
    1.19, 1.25, 1.33, 1.31, 1.33, 1.31, 1.33, 1.37, 1.39, 1.41,
    1.45, 1.31, 1.52, 1.53, 1.58, 1.65, 1.67, 1.69, 1.71, 1.74,
    1.86, 1.73, 1.70, 1.64, 1.59, 1.72, 1.74, 1.73, 1.75, 1.74,
    1.72, 1.67, 1.59, 1.57, 1.62, 1.69, 1.74, 1.71, 1.64, 1.62,
    1.56, 1.60, 1.62, 1.61, 1.62, 1.62, 1.68, 1.63, 1.60, 1.64,
    1.62, 1.65, 1.66, 1.68, 1.61, 1.55, 1.52, 1.50, 1.50, 1.51,
    1.44, 1.41, 1.43, 1.40, 1.37, 1.34, 1.31, 1.30, 1.29, 1.29,
    1.28, 1.27, 1.24, 1.24, 1.26, 1.25, 1.27, 1.29, 1.30, 1.31,
    1.28, 1.27, 1.28, 1.26, 1.25, 1.24, 1.24, 1.22, 1.21, 1.22,
    1.22]
sonde_pwv = [1.951, 1.292]

# ---------------- styling ----------------
LIGHTBLUE = "#ADD8E6"
BLUE = "#0000FF"
NAVY = "#000080"
PLUM = "#DDA0DD"
DARKORANGE = "#FF8C00"
ORANGE = "#FFA500"
BROWN = "#A52A2A"
AXBLUE = "#0072BD"
AXGREY = "#262626"
FONT = "DejaVu Sans"

# the browser window only shows 4096 px in height, so the 3825x7125 layout of the
# original is compressed vertically (all positions kept as fractions of the page)
W, H = 3825, 4096
SY = H / 7125.0

tick_size = 32
title_size = 40
legend_size = 26
GAP = "\u00a0\u00a0\u00a0\u2009"   # space between legend symbol and label

fig = go.Figure()


def xa(i):
    return "x" if i == 1 else "x%d" % i


def ya(i):
    return "y" if i == 1 else "y%d" % i


def lg(i):
    return "legend" if i == 1 else "legend%d" % i


def red(text):
    return '<span style="color:#FF0000">' + text + "</span>"


def legend_line(i, name, color, rank, width=3):
    # entry with no data (e.g. "No data file")
    fig.add_trace(go.Scatter(x=[None], y=[None], mode="lines", name=GAP + name,
                             line=dict(color=color, width=width),
                             legend=lg(i), legendrank=rank,
                             xaxis=xa(i), yaxis=ya(i)))


def band(i, t, lo, hi, color):
    fig.add_trace(go.Scatter(x=t, y=lo, mode="lines", line=dict(color=color, width=1.5),
                             showlegend=False, hoverinfo="skip", xaxis=xa(i), yaxis=ya(i)))
    fig.add_trace(go.Scatter(x=t, y=hi, mode="lines", line=dict(color=color, width=1.5),
                             fill="tonexty", fillcolor=color, showlegend=False,
                             hoverinfo="skip", xaxis=xa(i), yaxis=ya(i)))


def line(i, t, y, name, color, rank, width=3, shape="linear", show=True):
    fig.add_trace(go.Scatter(x=t, y=y, mode="lines", name=GAP + name,
                             line=dict(color=color, width=width, shape=shape),
                             showlegend=show, legend=lg(i), legendrank=rank,
                             xaxis=xa(i), yaxis=ya(i)))


def sonde(i, y, rank):
    fig.add_trace(go.Scatter(x=sonde_t, y=y, mode="markers", name=GAP + "Sonde (alt. 91.9m)",
                             marker=dict(size=46, color="#808080",
                                         line=dict(color="black", width=6)),
                             legend=lg(i), legendrank=rank,
                             xaxis=xa(i), yaxis=ya(i)))


# panel 1
band(1, t02, aos_pres_lo, aos_pres_hi, LIGHTBLUE)
legend_line(1, "AOS srf pres", LIGHTBLUE, 1)
line(1, t01, aos_pres_1min, "AOS srf pres (1 min)", BLUE, 2)
legend_line(1, red("MAWS srf pres (1 min) (No data file)"), NAVY, 3)
line(1, t01, met_pres, "MET srf pres", PLUM, 4)
legend_line(1, "MET srf pres", PLUM, 5)
line(1, t_ecor, ecor_pres, "ECOR srf pres", DARKORANGE, 6)
sonde(1, sonde_pres, 7)

# panel 2
band(2, t02, aos_ws_lo, aos_ws_hi, LIGHTBLUE)
legend_line(2, "AOS wind speed", LIGHTBLUE, 1)
band(2, t02, met_ws_lo, met_ws_hi, "rgba(221,160,221,0.65)")
line(2, t01, aos_ws_1min, "AOS wind speed (1 min)", BLUE, 2, width=2.5)
legend_line(2, red("MAWS wind speed (No data file)"), NAVY, 3)
legend_line(2, "MET wind speed", PLUM, 4)
line(2, t_ecor, ecor_ws, "ECOR horizontal wind speed", BROWN, 5)
sonde(2, sonde_ws, 6)

# panel 3
band(3, t025, aos_wd_lo, aos_wd_hi, LIGHTBLUE)
fig.add_trace(go.Scatter(
    x=np.concatenate([t025, t025, aos_wd_out_t]),
    y=np.concatenate([aos_wd_lo, aos_wd_hi, aos_wd_out_v]),
    mode="markers", name=GAP + "AOS wind dir",
    marker=dict(size=21, color="#DCEFF5", line=dict(color=LIGHTBLUE, width=6)),
    legend=lg(3), legendrank=1, xaxis=xa(3), yaxis=ya(3)))
fig.add_trace(go.Scatter(x=[None], y=[None], mode="markers",
                         name=GAP + red("MAWS wind dir (No data file)"),
                         marker=dict(symbol="diamond", size=16, color="rgba(0,0,128,0.5)",
                                     line=dict(color=NAVY, width=3)),
                         legend=lg(3), legendrank=2, xaxis=xa(3), yaxis=ya(3)))
fig.add_trace(go.Scatter(x=t02, y=met_wd, mode="markers", name=GAP + "MET Wind Dir",
                         marker=dict(symbol="square", size=22, color="#EBCDEB",
                                     line=dict(color=PLUM, width=6)),
                         legend=lg(3), legendrank=3, xaxis=xa(3), yaxis=ya(3)))
fig.add_trace(go.Scatter(x=t_ecor, y=ecor_wd, mode="markers", name=GAP + "ECOR Wind Dir",
                         marker=dict(symbol="star", size=44, color=BROWN,
                                     line=dict(color="#8B2323", width=2)),
                         legend=lg(3), legendrank=4, xaxis=xa(3), yaxis=ya(3)))
sonde(3, sonde_wd, 5)

# panel 4
line(4, t01, aos_temp, "AOS srf air temp", LIGHTBLUE, 1, width=2.5, shape="hv")
legend_line(4, red("MAWS srf air temp (No data file)"), NAVY, 2)
line(4, t01, met_temp, "MET srf air temp", PLUM, 3, width=2.5)
line(4, t_ecor, ecor_temp, "ECOR srf air temp", DARKORANGE, 4)
sonde(4, sonde_temp, 5)

# panel 5
line(5, t02, aos_rh, "AOS RH", LIGHTBLUE, 1, width=3.5)
line(5, t01, aos_rh_1min, "AOS RH (1 min)", BLUE, 2, width=2.5)
legend_line(5, red("MAWS RH (No data file)"), NAVY, 3)
line(5, t02, met_rh, "MET RH", PLUM, 4, width=2.5)
sonde(5, sonde_rh, 5)

# panel 6
line(6, t02, mwr2c_pwv, "MWR 2C PWV", ORANGE, 1, width=4)
line(6, t01, mwr3c_pwv, "MWR 3C PWV", BROWN, 2, width=5)
fig.add_trace(go.Scatter(x=np.concatenate([t01, t02]),
                         y=np.concatenate([mwr3c_pwv, mwr2c_pwv]),
                         mode="markers", marker=dict(size=13, color="#FF0000"),
                         showlegend=False, hoverinfo="skip", xaxis=xa(6), yaxis=ya(6)))
sonde(6, sonde_pwv, 3)

# ---------------- axes / layout ----------------
# positions measured on the 3825x7125 original (pixels)
M_L, M_R, M_T, M_B = 370, 827, 296, 296
panel_px = [(296, 1196), (1428, 2329), (2550, 3452), (3672, 4574), (4796, 5696), (5929, 6829)]
y_ranges = [[1005.74, 1016.21], [-0.42, 22.1], [-18, 376], [8.85, 12.135], [49.95, 96.2], [0.616, 2.005]]
y_dticks = [1, 5, 50, 0.5, 5, 0.2]
y_titles = ["Srf Pres, hPA", "Wind Speed, m/s", "Wind Dir, degCWN",
            "Temperature, <sup>o</sup>C", "Relative Humidity, %", "Precip. Water Vapor, mm"]
# legend: left of symbol, first and last entry centre, number of entries
legend_px = [(1848, 821, 1128, 7), (1885, 1975, 2233, 6), (607, 3123, 3328, 5),
             (1885, 4244, 4450, 5), (1970, 5377, 5581, 5), (2236, 6667, 6769, 3)]
ITEM_H = 36.5   # legend row height at legend_size
FIRST_OFF = 33  # legend top to first row centre

plot_w = 3825 - M_L - M_R
plot_h0 = 7125 - M_T - M_B


def px_x(p):
    return (p - M_L) / plot_w


def px_y(p):
    # fraction of the plot area, measured on the original page
    return (7125 - M_B - p) / plot_h0


layout = dict(
    width=W, height=H,
    margin=dict(l=M_L, r=M_R, t=round(M_T * SY), b=round(M_B * SY), autoexpand=False),
    paper_bgcolor="white", plot_bgcolor="white",
    font=dict(family=FONT, size=tick_size, color=AXGREY),
    showlegend=True,
)
plot_h = H - layout["margin"]["t"] - layout["margin"]["b"]

shapes = []
for i in range(1, 7):
    top, bot = panel_px[i - 1]
    sx = "" if i == 1 else str(i)
    layout["xaxis" + sx] = dict(
        domain=[0, 1], anchor=ya(i), range=[0, 24], tickvals=[0, 5, 10, 15, 20],
        ticks="inside", ticklen=16, tickwidth=2.5, tickcolor=AXGREY,
        showline=True, linecolor=AXGREY, linewidth=2.5, showgrid=False, zeroline=False,
        tickfont=dict(size=tick_size, color=AXGREY), ticklabelstandoff=0,
        title=dict(text="UTC hours on 20250922", font=dict(size=title_size, color=AXGREY),
                   standoff=8),
    )
    layout["yaxis" + sx] = dict(
        domain=[px_y(bot), px_y(top)], anchor=xa(i), range=y_ranges[i - 1],
        dtick=y_dticks[i - 1], tick0=0,
        ticks="inside", ticklen=27, tickwidth=2.5, tickcolor=AXBLUE,
        showline=True, linecolor=AXBLUE, linewidth=2.5, mirror=True,
        showgrid=False, zeroline=False,
        tickfont=dict(size=tick_size, color=AXBLUE), ticklabelstandoff=32,
        title=dict(text=y_titles[i - 1], font=dict(size=title_size, color=AXBLUE), standoff=37),
    )
    lx, first, last, n = legend_px[i - 1]
    centre = (first + last) / 2.0 * SY
    top_px = centre - (n - 1) * ITEM_H / 2.0 - FIRST_OFF
    layout[lg(i)] = dict(
        x=px_x(lx - 10), y=(H - layout["margin"]["b"] - top_px) / plot_h,
        xanchor="left", yanchor="top",
        bgcolor="rgba(0,0,0,0)", borderwidth=0, itemwidth=278,
        font=dict(family=FONT, size=legend_size, color="black"),
        tracegroupgap=0, traceorder="normal",
    )
    if i != 3:
        for x0, x1 in night_spans:
            shapes.append(dict(type="rect", xref=xa(i), yref=ya(i) + " domain",
                               x0=x0, x1=x1, y0=-0.012, y1=1, layer="above",
                               fillcolor="yellow", opacity=0.16, line=dict(width=0)))

layout["shapes"] = shapes
fig.update_layout(**layout)

fig.write_html("out.html")
